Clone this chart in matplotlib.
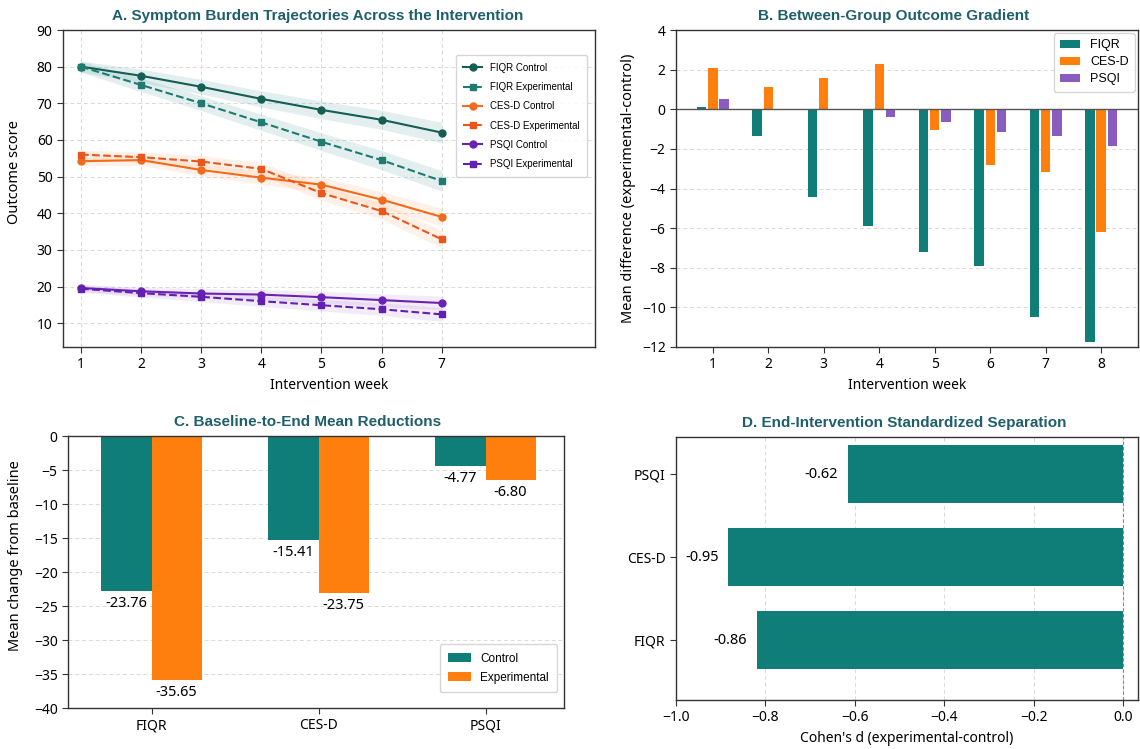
import matplotlib
matplotlib.use("Agg")
import matplotlib.pyplot as plt
import numpy as np

plt.rcParams['font.family'] = ['Noto Sans', 'DejaVu Sans']

# ---------------- data ----------------
weeks_a = [1, 2, 3, 4, 5, 6, 7]
fiqr_ctrl = [80.0, 77.5, 74.5, 71.2, 68.2, 65.5, 62.0]
fiqr_exp = [80.0, 75.0, 70.0, 64.8, 59.5, 54.5, 48.8]
cesd_ctrl = [54.2, 54.5, 51.8, 49.7, 47.8, 43.7, 39.0]
cesd_exp = [56.0, 55.3, 54.1, 52.1, 45.5, 40.6, 32.9]
psqi_ctrl = [19.6, 18.7, 18.1, 17.8, 17.1, 16.3, 15.5]
psqi_exp = [19.4, 18.2, 17.2, 16.0, 14.9, 13.8, 12.4]
fiqr_band = [1.5, 1.8, 2.0, 2.2, 2.4, 2.6, 2.8]
cesd_band = [1.2, 1.4, 1.6, 1.8, 2.0, 2.2, 2.4]
psqi_band = [1.0, 1.1, 1.3, 1.4, 1.6, 1.7, 1.9]

weeks_b = [1, 2, 3, 4, 5, 6, 7, 8]
diff_fiqr = [0.12, -1.35, -4.45, -5.9, -7.2, -7.9, -10.5, -11.75]
diff_cesd = [2.1, 1.1, 1.6, 2.3, -1.05, -2.8, -3.15, -6.2]
diff_psqi = [0.5, 0.0, 0.02, -0.4, -0.65, -1.15, -1.35, -1.85]

measures = ["FIQR", "CES-D", "PSQI"]
change_ctrl = [-22.8, -15.3, -4.4]
change_exp = [-35.9, -23.1, -6.5]
change_ctrl_labels = ["-23.76", "-15.41", "-4.77"]
change_exp_labels = ["-35.65", "-23.75", "-6.80"]

cohen_measures = ["FIQR", "CES-D", "PSQI"]
cohen_d = [-0.82, -0.883, -0.615]
cohen_labels = ["-0.86", "-0.95", "-0.62"]

# ---------------- styles ----------------
TEAL = "#0f7d78"
ORANGE = "#ff7f0e"
PURPLE = "#8a5cc0"
TITLE_C = "#1f5f6c"
ARIAL = ['Liberation Sans', 'DejaVu Sans']
TITLE_FONT = dict(family=ARIAL, weight='bold', size=11, color=TITLE_C)
GRID = dict(color="#d9d9d9", linestyle=(0, (4, 3)), linewidth=0.7)

W, H = 1140, 749
fig = plt.figure(figsize=(W / 100, H / 100), dpi=100)

def box(l, t, r, b):
    return [l / W, 1 - b / H, (r - l) / W, (b - t) / H]

axA = fig.add_axes(box(63, 30, 595, 347))
axB = fig.add_axes(box(676, 30, 1138, 347))
axC = fig.add_axes(box(68, 436, 564, 708))
axD = fig.add_axes(box(676, 437, 1138, 700))

for ax in (axA, axB, axC, axD):
    for s in ax.spines.values():
        s.set_color("#333333")
        s.set_linewidth(1.0)
    ax.tick_params(labelsize=10, color="#333333", length=4)
    ax.set_axisbelow(True)

# ---------------- Panel A ----------------
series = [
    ("FIQR Control", fiqr_ctrl, fiqr_band, "#155e55", "-", "o", "#5fa8a2"),
    ("FIQR Experimental", fiqr_exp, fiqr_band, "#1f7a72", "--", "s", "#5fa8a2"),
    ("CES-D Control", cesd_ctrl, cesd_band, "#f26a1b", "-", "o", "#ffb27a"),
    ("CES-D Experimental", cesd_exp, cesd_band, "#e8561c", "--", "s", "#ffb27a"),
    ("PSQI Control", psqi_ctrl, psqi_band, "#6a22b5", "-", "o", "#b894dd"),
    ("PSQI Experimental", psqi_exp, psqi_band, "#6320b0", "--", "s", "#b894dd"),
]
for name, vals, band, col, ls, mk, bandcol in series:
    v = np.array(vals)
    b = np.array(band)
    axA.fill_between(weeks_a, v - b, v + b, color=bandcol, alpha=0.18, linewidth=0)
    axA.plot(weeks_a, v, linestyle=ls, marker=mk, color=col, linewidth=1.5,
             markersize=5, label=name)
axA.set_xlim(0.7, 9.55)
axA.set_ylim(3.5, 90)
axA.set_xticks(weeks_a)
axA.set_yticks([10, 20, 30, 40, 50, 60, 70, 80, 90])
axA.grid(True, **GRID)
axA.set_xlabel("Intervention week", fontsize=10)
axA.set_ylabel("Outcome score", fontsize=10.5)
axA.yaxis.set_label_coords(-0.078, 0.552)
axA.set_title("A. Symptom Burden Trajectories Across the Intervention", x=0.478, pad=7, **TITLE_FONT)
legA = axA.legend(loc='upper right', bbox_to_anchor=(0.985, 0.921), borderaxespad=0,
                  prop=dict(family=ARIAL, size=7.0),
                  labelspacing=0.95, handlelength=1.9, borderpad=0.8, frameon=True)
legA.get_frame().set_edgecolor("#cccccc")

# ---------------- Panel B ----------------
wb = np.array(weeks_b)
bw = 0.17
axB.bar(wb - 0.2, diff_fiqr, bw, color=TEAL, label="FIQR")
axB.bar(wb, diff_cesd, bw, color=ORANGE, label="CES-D")
axB.bar(wb + 0.2, diff_psqi, bw, color=PURPLE, label="PSQI")
axB.axhline(0, color="#555555", linewidth=1.0)
axB.set_ylim(-12, 4)
axB.set_yticks([-12, -10, -8, -6, -4, -2, 0, 2, 4])
axB.set_xticks(weeks_b)
axB.yaxis.grid(True, **GRID)
axB.set_xlabel("Intervention week", fontsize=10)
axB.set_ylabel("Mean difference (experimental-control)", fontsize=10.5)
axB.set_title("B. Between-Group Outcome Gradient", x=0.47, pad=7, **TITLE_FONT)
legB = axB.legend(loc='upper right', prop=dict(family=ARIAL, size=9),
                  handlelength=1.6, borderpad=0.5, labelspacing=0.4, borderaxespad=0.25)
legB.get_frame().set_edgecolor("#cccccc")

# ---------------- Panel C ----------------
xc = np.arange(len(measures))
cw = 0.3
axC.bar(xc - 0.15, change_ctrl, cw, color=TEAL, label="Control")
axC.bar(xc + 0.15, change_exp, cw, color=ORANGE, label="Experimental")
for i in range(len(measures)):
    axC.text(xc[i] - 0.15, change_ctrl[i] - 0.7, change_ctrl_labels[i], ha='center', va='top', fontsize=10.5)
    axC.text(xc[i] + 0.15, change_exp[i] - 0.7, change_exp_labels[i], ha='center', va='top', fontsize=10.5)
axC.set_xlim(-0.5, 2.47)
axC.set_ylim(-40, 0)
axC.set_xticks(xc)
axC.set_xticklabels(measures)
axC.set_yticks([-40, -35, -30, -25, -20, -15, -10, -5, 0])
axC.yaxis.grid(True, **GRID)
axC.set_ylabel("Mean change from baseline", fontsize=10.5)
axC.yaxis.set_label_coords(-0.09, 0.559)
axC.set_title("C. Baseline-to-End Mean Reductions", x=0.482, pad=7, **TITLE_FONT)
legC = axC.legend(loc='lower right', bbox_to_anchor=(0.986, 0.059), borderaxespad=0,
                  prop=dict(family=ARIAL, size=8.5),
                  handlelength=1.9, borderpad=0.7, labelspacing=0.6)
legC.get_frame().set_edgecolor("#cccccc")

# ---------------- Panel D ----------------
yd = np.arange(len(cohen_measures))
axD.barh(yd, cohen_d, 0.7, color=TEAL)
for i in range(len(cohen_measures)):
    axD.text(cohen_d[i] - 0.022, yd[i], cohen_labels[i], ha='right', va='center', fontsize=10.5)
axD.axvline(0, color="#888888", linestyle=(0, (3, 2)), linewidth=0.8)
axD.set_xlim(-1.0, 0.033)
axD.set_ylim(-0.72, 2.45)
axD.set_yticks(yd)
axD.set_yticklabels(cohen_measures)
axD.set_xticks([-1.0, -0.8, -0.6, -0.4, -0.2, 0.0])
axD.xaxis.grid(True, **GRID)
axD.set_xlabel("Cohen's d (experimental-control)", fontsize=10)
axD.set_title("D. End-Intervention Standardized Separation", x=0.494, pad=7, **TITLE_FONT)

fig.savefig("out.png", dpi=100, facecolor="white")
